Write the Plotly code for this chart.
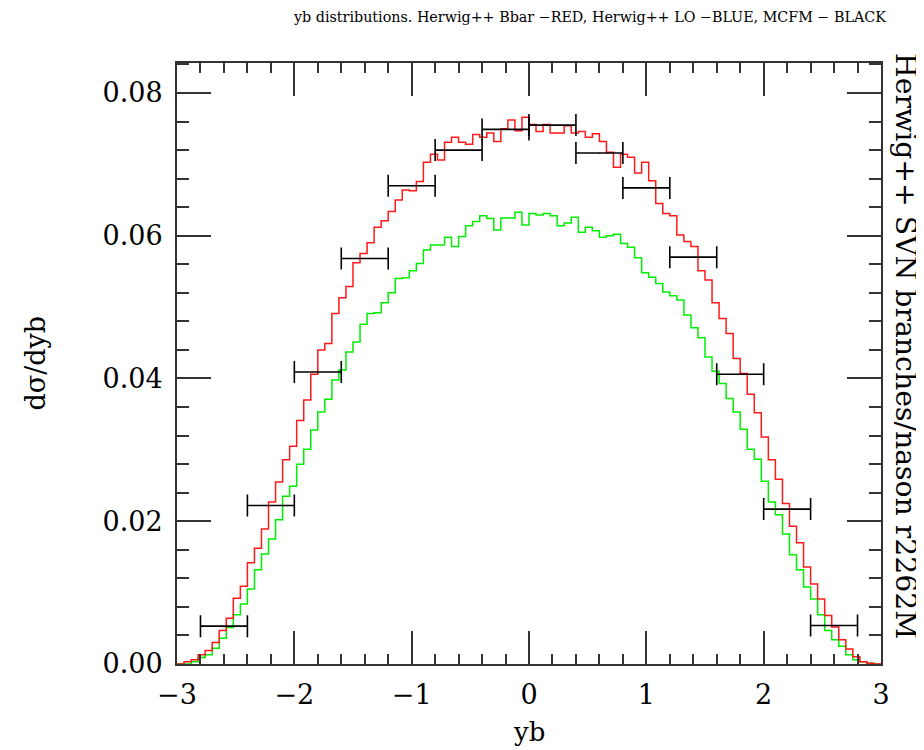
import numpy as np
import plotly.graph_objects as go

# ---------------- data ----------------
x_min, x_max, n_bins = -3.0, 3.0, 100

herwig_bbar_red = [
    0.0000, 0.0003, 0.0006, 0.0013, 0.0019, 0.0030, 0.0047, 0.0064, 0.0092, 0.0109,
    0.0142, 0.0162, 0.0189, 0.0227, 0.0255, 0.0286, 0.0305, 0.0341, 0.0370, 0.0406,
    0.0440, 0.0449, 0.0491, 0.0513, 0.0529, 0.0562, 0.0575, 0.0590, 0.0612, 0.0621,
    0.0634, 0.0650, 0.0664, 0.0663, 0.0676, 0.0703, 0.0714, 0.0706, 0.0731, 0.0738,
    0.0731, 0.0728, 0.0742, 0.0738, 0.0744, 0.0732, 0.0750, 0.0762, 0.0747, 0.0766,
    0.0756, 0.0746, 0.0756, 0.0744, 0.0744, 0.0754, 0.0744, 0.0746, 0.0738, 0.0743,
    0.0732, 0.0717, 0.0696, 0.0714, 0.0710, 0.0688, 0.0703, 0.0677, 0.0645, 0.0631,
    0.0628, 0.0601, 0.0592, 0.0585, 0.0551, 0.0538, 0.0506, 0.0484, 0.0463, 0.0428,
    0.0407, 0.0378, 0.0352, 0.0318, 0.0286, 0.0259, 0.0225, 0.0193, 0.0170, 0.0136,
    0.0112, 0.0091, 0.0068, 0.0052, 0.0034, 0.0021, 0.0010, 0.0003, 0.0001, 0.0000,
]

herwig_lo_green = [
    0.0000, 0.0000, 0.0003, 0.0009, 0.0013, 0.0022, 0.0036, 0.0051, 0.0069, 0.0084,
    0.0105, 0.0132, 0.0154, 0.0175, 0.0202, 0.0235, 0.0249, 0.0280, 0.0301, 0.0328,
    0.0353, 0.0371, 0.0398, 0.0412, 0.0437, 0.0451, 0.0476, 0.0491, 0.0492, 0.0506,
    0.0520, 0.0540, 0.0541, 0.0551, 0.0561, 0.0580, 0.0587, 0.0587, 0.0598, 0.0585,
    0.0599, 0.0614, 0.0620, 0.0628, 0.0624, 0.0608, 0.0625, 0.0625, 0.0633, 0.0615,
    0.0631, 0.0629, 0.0631, 0.0628, 0.0614, 0.0618, 0.0626, 0.0605, 0.0612, 0.0607,
    0.0598, 0.0600, 0.0602, 0.0589, 0.0584, 0.0569, 0.0548, 0.0542, 0.0533, 0.0521,
    0.0516, 0.0510, 0.0489, 0.0471, 0.0457, 0.0430, 0.0410, 0.0393, 0.0372, 0.0353,
    0.0329, 0.0301, 0.0287, 0.0256, 0.0227, 0.0209, 0.0182, 0.0153, 0.0132, 0.0108,
    0.0091, 0.0069, 0.0047, 0.0034, 0.0025, 0.0013, 0.0006, 0.0003, 0.0001, 0.0000,
]

mcfm_centers = [-2.6, -2.2, -1.8, -1.4, -1.0, -0.6, -0.2, 0.2, 0.6, 1.0, 1.4, 1.8, 2.2, 2.6]
mcfm_values = [0.0053, 0.0222, 0.0409, 0.0568, 0.0670, 0.0720, 0.0749,
               0.0755, 0.0716, 0.0667, 0.0570, 0.0406, 0.0217, 0.0054]
mcfm_halfwidth = 0.2

x_tick_vals = [-3, -2, -1, 0, 1, 2, 3]
y_tick_vals = [0.00, 0.02, 0.04, 0.06, 0.08]

title_text = "yb distributions. Herwig++ Bbar \u2212RED, Herwig++ LO \u2212BLUE, MCFM \u2212 BLACK"
right_text = "Herwig++ SVN branches/nason r2262M"
y_label = "d\u03c3/dyb"
x_label = "yb"

# ---------------- figure ----------------
edges = np.linspace(x_min, x_max, n_bins + 1)


def step_trace(vals, color):
    ys = list(vals) + [vals[-1]]
    return go.Scatter(x=edges, y=ys, mode="lines", line=dict(color=color, width=1.5, shape="hv"),
                      hoverinfo="skip", showlegend=False)


fig = go.Figure()
fig.add_trace(step_trace(herwig_lo_green, "#00ee00"))
fig.add_trace(step_trace(herwig_bbar_red, "#ff1a1a"))
fig.add_trace(go.Scatter(
    x=mcfm_centers, y=mcfm_values, mode="markers",
    marker=dict(size=1, color="black"),
    error_x=dict(type="constant", value=mcfm_halfwidth, color="black", thickness=1.6, width=11),
    showlegend=False, hoverinfo="skip"))

axis_common = dict(
    showline=True, linewidth=2, linecolor="#333333", mirror="ticks",
    ticks="inside", tickwidth=1.6, tickcolor="#333333",
    showgrid=False, zeroline=False,
    tickfont=dict(family="DejaVu Serif", size=27, color="black"),
)

fig.update_xaxes(range=[x_min, x_max], tickvals=x_tick_vals, ticklen=33, ticklabelstandoff=6,
                 minor=dict(dtick=0.2, ticklen=10, ticks="inside", tickwidth=1.6,
                            tickcolor="#333333", showgrid=False),
                 **axis_common)
fig.update_yaxes(range=[0, 0.0842], tickvals=y_tick_vals, tickformat=".2f", ticklen=34,
                 ticklabelstandoff=7,
                 minor=dict(dtick=0.004, ticklen=12, ticks="inside", tickwidth=1.6,
                            tickcolor="#333333", showgrid=False),
                 **axis_common)

# page body has an 8px margin, so the figure is sized/margined to land the frame at the reference pixels
fig.update_layout(
    width=916, height=742,
    margin=dict(l=169, r=43, t=55, b=86),
    paper_bgcolor="white", plot_bgcolor="white",
    annotations=[
        dict(text=title_text, xref="paper", yref="paper", x=1.01, y=1.0, yshift=46,
             xanchor="right", yanchor="middle", showarrow=False,
             font=dict(family="DejaVu Serif", size=14.3, color="black")),
        dict(text=right_text, xref="paper", yref="paper", x=1.0, y=1.0, xshift=25, yshift=12,
             xanchor="center", yanchor="top", textangle=90, showarrow=False,
             font=dict(family="DejaVu Serif", size=28.3, color="black")),
        dict(text=y_label, xref="paper", yref="paper", x=0, y=0.5, xshift=-142,
             xanchor="center", yanchor="middle", textangle=-90, showarrow=False,
             font=dict(family="DejaVu Serif", size=27, color="black")),
        dict(text=x_label, xref="paper", yref="paper", x=0.5, y=0, yshift=-68,
             xanchor="center", yanchor="middle", showarrow=False,
             font=dict(family="DejaVu Serif", size=26, color="black")),
    ],
)

fig.write_html("out.html")
